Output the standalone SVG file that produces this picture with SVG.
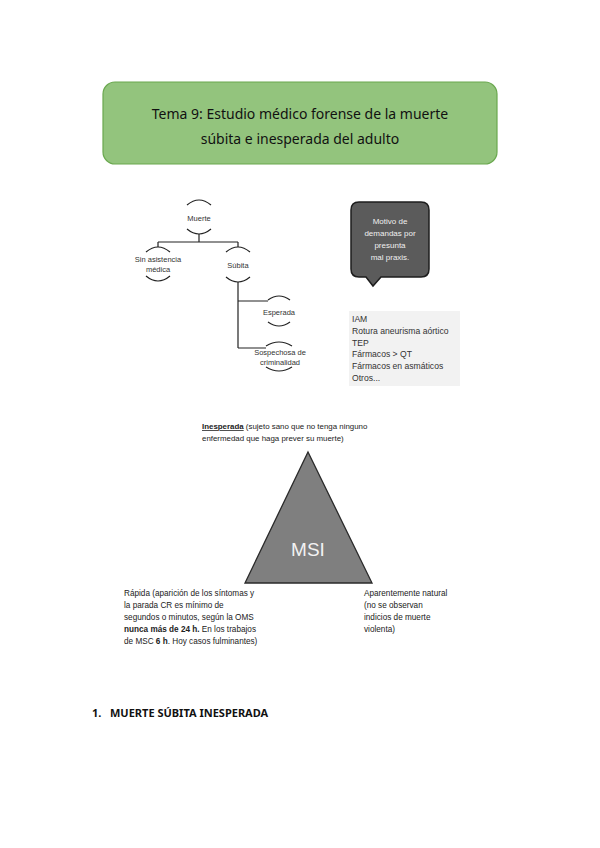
<svg xmlns="http://www.w3.org/2000/svg" width="600" height="848" viewBox="0 0 600 848">
<style>
.t{font-family:"Liberation Sans",Arial,sans-serif;fill:#222}
.ln{fill:none;stroke:#222;stroke-width:1.2}
.arc{fill:none;stroke:#222;stroke-width:1.2}
.title{font-family:"Noto Sans","Liberation Sans",sans-serif;font-size:14px;fill:#111}
.nd{font-size:7.5px;text-anchor:middle;fill:#333}
.lst{font-size:8.6px;fill:#333}
.body{font-size:8.2px;fill:#222}
</style>
<rect width="600" height="848" fill="#fff"/>

<g id="title">
<rect x="103" y="82" width="394" height="82" rx="12" fill="#93c47d" stroke="#6aa84f" stroke-width="1.2"/>
<text class="title" x="300" y="119" text-anchor="middle">Tema 9: Estudio médico forense de la muerte</text>
<text class="title" x="300" y="144" text-anchor="middle">súbita e inesperada del adulto</text>
</g>

<g id="connectors">
<path class="ln" d="M199,234 V242 M158,242 H238 M158,242 V247 M238,242 V247"/>
<path class="ln" d="M238,282 V348 M238,301 H268 M238,348 H266"/>
</g>

<g id="node-muerte">
<path class="arc" d="M187,205 Q199,195 211,205 M187,229 Q199,239 211,229"/>
<text class="t nd" x="199" y="221">Muerte</text>
</g>
<g id="node-sin-asistencia">
<path class="arc" d="M146,252 Q158,242 170,252 M146,276 Q158,286 170,276"/>
<text class="t nd" x="158" y="262">Sin asistencia</text>
<text class="t nd" x="158" y="272">médica</text>
</g>
<g id="node-subita">
<path class="arc" d="M226,252 Q238,242 250,252 M226,277 Q238,287 250,277"/>
<text class="t nd" x="238" y="268">Súbita</text>
</g>
<g id="node-esperada">
<path class="arc" d="M268,300 Q279,292 290,300 M268,322 Q279,330 290,322"/>
<text class="t nd" x="279" y="315">Esperada</text>
</g>
<g id="node-sospechosa">
<path class="arc" d="M266,346 Q279,338 292,346 M266,367 Q279,375 292,367"/>
<text class="t nd" x="280" y="355">Sospechosa de</text>
<text class="t nd" x="280" y="365">criminalidad</text>
</g>

<g id="callout">
<path d="M359,202 H421 Q429,202 429,210 V269 Q429,277 421,277 H381 L373,286 L366,277 H359 Q351,277 351,269 V210 Q351,202 359,202 Z" fill="#5b5b5b" stroke="#1e1e1e" stroke-width="1.5"/>
<g class="t" style="font-size:8px;fill:#f0f0f0" text-anchor="middle">
<text x="390" y="224">Motivo de</text>
<text x="390" y="236">demandas por</text>
<text x="390" y="248">presunta</text>
<text x="390" y="260">mal praxis.</text>
</g>
</g>

<g id="causes">
<rect x="349" y="311" width="111" height="75" fill="#f2f2f2"/>
<g class="t lst">
<text x="352" y="322">IAM</text>
<text x="352" y="334">Rotura aneurisma aórtico</text>
<text x="352" y="346">TEP</text>
<text x="352" y="357">Fármacos &gt; QT</text>
<text x="352" y="369">Fármacos en asmáticos</text>
<text x="352" y="381">Otros...</text>
</g>
</g>

<g id="inesperada">
<text class="t body" x="202" y="429" style="font-size:7.9px"><tspan font-weight="bold" text-decoration="underline">Inesperada</tspan> (sujeto sano que no tenga ninguno</text>
<text class="t body" x="202" y="441" style="font-size:7.9px">enfermedad que haga prever su muerte)</text>
</g>

<g id="triangle">
<polygon points="308,452 372,583 245,583" fill="#7f7f7f" stroke="#2a2a2a" stroke-width="1.3"/>
<text x="308" y="556" text-anchor="middle" style="font-family:'Liberation Sans',Arial,sans-serif;font-size:19px;fill:#f2f2f2">MSI</text>
</g>

<g id="rapida" class="t body">
<text x="124" y="596">Rápida (aparición de los síntomas y</text>
<text x="124" y="608">la parada CR es mínimo de</text>
<text x="124" y="620">segundos o minutos, según la OMS</text>
<text x="124" y="632"><tspan font-weight="bold">nunca más de 24 h.</tspan> En los trabajos</text>
<text x="124" y="644">de MSC <tspan font-weight="bold">6 h</tspan>. Hoy casos fulminantes)</text>
</g>

<g id="aparente" class="t body">
<text x="364" y="596">Aparentemente natural</text>
<text x="364" y="608">(no se observan</text>
<text x="364" y="620">indicios de muerte</text>
<text x="364" y="632">violenta)</text>
</g>

<g id="heading">
<text x="92" y="717" style="font-family:'Noto Sans','Liberation Sans',sans-serif;font-size:11px;font-weight:bold;fill:#111">1.</text>
<text x="110" y="717" style="font-family:'Noto Sans','Liberation Sans',sans-serif;font-size:11px;font-weight:bold;fill:#111">MUERTE SÚBITA INESPERADA</text>
</g>
</svg>
